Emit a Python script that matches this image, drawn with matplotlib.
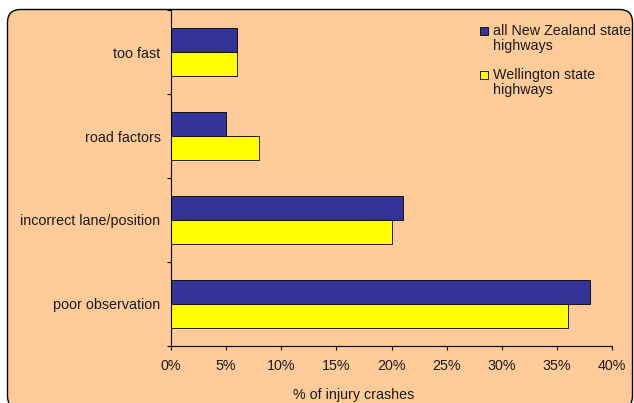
import matplotlib
matplotlib.use("Agg")
import matplotlib.pyplot as plt
from matplotlib.patches import FancyBboxPatch, Rectangle
from matplotlib.transforms import IdentityTransform
import numpy as np

plt.rcParams['font.family'] = ['Liberation Sans', 'DejaVu Sans']

categories = ["too fast", "road factors", "incorrect lane/position", "poor observation"]
series_names = ["all New Zealand state\nhighways", "Wellington state\nhighways"]
nz_values = [6, 5, 21, 38]
wellington_values = [6, 8, 20, 36]
x_ticks = [0, 5, 10, 15, 20, 25, 30, 35, 40]
x_label = "% of injury crashes"

NAVY = "#333399"
YELLOW = "#FFFF00"
PEACH = "#FFCC99"
TXT = "#1a1a1a"
FS = 10.3

W, H = 634, 403
fig = plt.figure(figsize=(W / 100, H / 100), dpi=100, facecolor="white")

# Rounded chart-area border (pixel coordinates, origin bottom-left)
border = FancyBboxPatch((7.5, -6), 625, H - 9.5 + 6, boxstyle="round,pad=0,rounding_size=13",
                        transform=IdentityTransform(), facecolor=PEACH, edgecolor="black",
                        linewidth=1.0, figure=fig, zorder=-10)
fig.patches.append(border)

left, right, top, bottom = 171, 612, 10, 346
ax = fig.add_axes([left / W, 1 - bottom / H, (right - left) / W, (bottom - top) / H])
ax.set_facecolor("none")
ax.set_zorder(5)

n = len(categories)
ypos = np.arange(n)[::-1]  # top category at highest y
bh = 0.29
ax.barh(ypos + bh / 2, nz_values, height=bh, color=NAVY, edgecolor="black", linewidth=0.6)
ax.barh(ypos - bh / 2, wellington_values, height=bh, color=YELLOW, edgecolor="black", linewidth=0.6)

ax.set_ylim(-0.5, n - 0.5)
ax.set_xlim(0, 40)
ax.set_xticks(x_ticks)
ax.set_xticklabels([f"{v}%" for v in x_ticks], fontsize=FS, color=TXT)
ax.set_yticks(ypos)
ax.set_yticklabels(categories, fontsize=FS, color=TXT)
ax.set_yticks(np.arange(-0.5, n, 1.0), minor=True)
ax.tick_params(axis="y", which="major", length=0, pad=7.5)
ax.tick_params(axis="y", which="minor", length=3, direction="out", width=0.8)
ax.tick_params(axis="x", which="major", length=3, direction="out", width=0.8, pad=6.5)

for s in ["top", "right"]:
    ax.spines[s].set_visible(False)
for s in ["left", "bottom"]:
    ax.spines[s].set_linewidth(0.8)
    ax.spines[s].set_color("black")

fig.text(354 / W, 1 - 395 / H, x_label, ha="center", va="center", fontsize=FS, color=TXT)

# Legend (manual)
colors = [NAVY, YELLOW]
legend_y = [31, 75]
for name, c, yc in zip(series_names, colors, legend_y):
    fig.patches.append(Rectangle(((480) / W, 1 - (yc + 4) / H), 8 / W, 8 / H,
                                 transform=fig.transFigure, facecolor=c, edgecolor="black",
                                 linewidth=0.6, figure=fig, zorder=2))
    fig.text(493 / W, 1 - (yc - 7) / H, name, ha="left", va="top", fontsize=FS,
             color=TXT, linespacing=1.1)

fig.savefig("out.png", dpi=100, facecolor="white")
